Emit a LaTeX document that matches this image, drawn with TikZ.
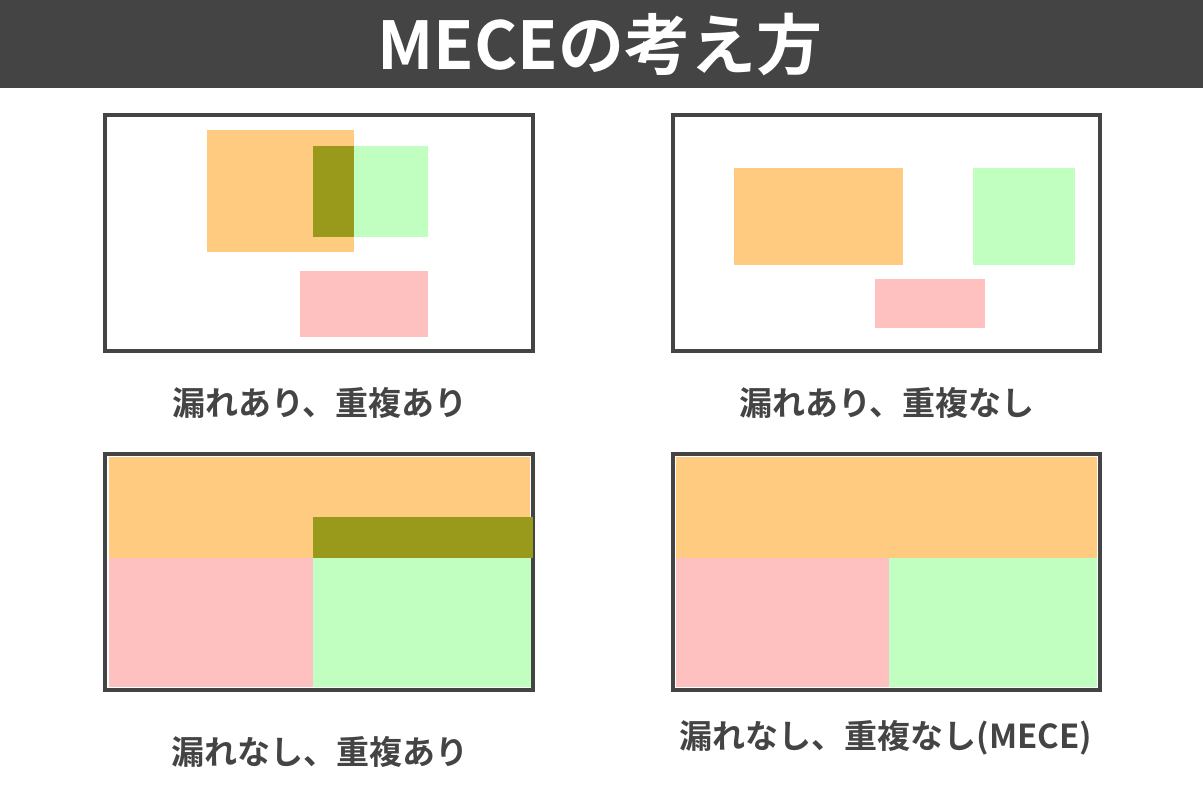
\documentclass[tikz,border=0pt]{standalone}
\usepackage{fontspec}
\newfontfamily\jp{Noto Sans CJK JP}[BoldFont={* Bold}]
\definecolor{dark}{HTML}{444444}
\definecolor{orng}{HTML}{FECB80}
\definecolor{grn}{HTML}{C1FFC1}
\definecolor{pnk}{HTML}{FFC0C0}
\definecolor{olive}{HTML}{999A1C}
\tikzset{
  frame/.style={draw=dark,line width=4pt,fill=white},
  lbl/.style={font=\jp\bfseries\fontsize{33}{36}\selectfont,text=dark,inner sep=0pt,anchor=center},
}
\begin{document}
\begin{tikzpicture}[x=1pt,y=-1pt]
\useasboundingbox[fill=white] (0,0) rectangle (1203,801);
% title
\fill[dark] (0,0) rectangle (1203,88);
\node[font=\jp\bfseries\fontsize{66}{70}\selectfont,text=white,inner sep=0pt] (title) at (600,45) {MECEの考え方};
% panel 1
\draw[frame] (105,115) rectangle (533,351);
\fill[orng] (207,130) rectangle (354,252);
\fill[grn] (313,146) rectangle (428,237);
\fill[olive] (313,146) rectangle (354,237);
\fill[pnk] (300,271) rectangle (428,337);
\node[lbl] (l1) at (320,403) {漏れあり、重複あり};
% panel 2
\draw[frame] (673,115) rectangle (1100,351);
\fill[orng] (734,168) rectangle (903,265);
\fill[grn] (973,168) rectangle (1075,265);
\fill[pnk] (875,279) rectangle (985,328);
\node[lbl] (l2) at (887,403) {漏れあり、重複なし};
% panel 3
\draw[frame] (105,454) rectangle (533,690);
\fill[orng] (109,457) rectangle (530,558);
\fill[pnk] (109,558) rectangle (313,687);
\fill[grn] (313,558) rectangle (531,687);
\fill[olive] (313,517) rectangle (533,558);
\node[lbl] (l3) at (320,752) {漏れなし、重複あり};
% panel 4
\draw[frame] (673,454) rectangle (1100,690);
\fill[orng] (676,457) rectangle (1097,558);
\fill[pnk] (676,558) rectangle (889,687);
\fill[grn] (889,558) rectangle (1097,687);
\node[lbl] (l4) at (886,738) {漏れなし、重複なし(MECE)};
\end{tikzpicture}
\end{document}
